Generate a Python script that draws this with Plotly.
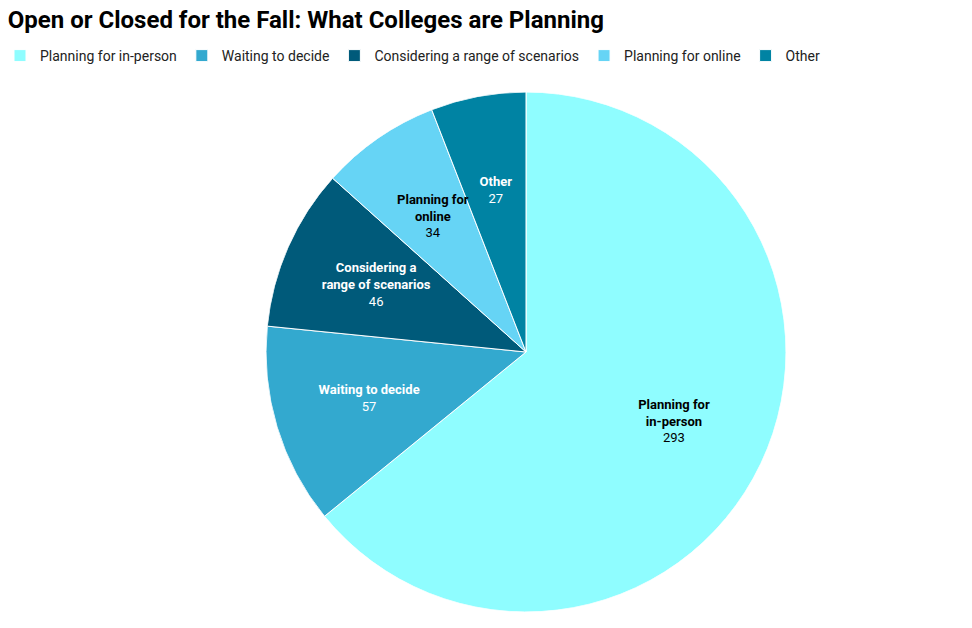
import plotly.graph_objects as go

categories = ["Planning for in-person", "Waiting to decide", "Considering a range of scenarios",
              "Planning for online", "Other"]
slice_labels = ["Planning for<br>in-person", "Waiting to decide", "Considering a<br>range of scenarios",
                "Planning for<br>online", "Other"]
values = [293, 57, 46, 34, 27]
colors = ["#8ffdff", "#33a9cf", "#005a7a", "#66d4f5", "#0083a3"]
text_colors = ["#000000", "#ffffff", "#ffffff", "#000000", "#ffffff"]

total = sum(values)
widths = [v / total * 360 for v in values]
mids = []
acc = 0.0
for w in widths:
    mids.append(acc + w / 2)
    acc += w

fig = go.Figure()
for cat, v, w, m, c in zip(categories, values, widths, mids, colors):
    fig.add_trace(go.Barpolar(
        name=cat, r=[1], theta=[m], width=[w], base=0,
        marker=dict(color=c, line=dict(color="#ffffff", width=1)),
        hovertemplate=cat + ": " + str(v) + "<extra></extra>",
    ))

fig.add_trace(go.Scatterpolar(
    r=[0.63] * len(values), theta=mids, mode="text",
    text=["<b>%s</b><br>%d" % (l, v) for l, v in zip(slice_labels, values)],
    textfont=dict(family="Roboto", size=13, color=text_colors),
    showlegend=False, hoverinfo="skip",
))

fig.update_layout(
    width=972, height=628,
    paper_bgcolor="#ffffff",
    margin=dict(l=80, r=0, t=92, b=16),
    font=dict(family="Roboto", color="#000000"),
    polar=dict(
        domain=dict(x=[0, 1], y=[0, 1]),
        bgcolor="rgba(0,0,0,0)", bargap=0, hole=0,
        radialaxis=dict(visible=False, range=[0, 1]),
        angularaxis=dict(visible=False, rotation=90, direction="clockwise"),
    ),
    title=dict(text="<b>Open or Closed for the Fall: What Colleges are Planning</b>",
               font=dict(family="Roboto", size=24, color="#000000"),
               x=0.008, xref="container", xanchor="left",
               y=1 - 20 / 628, yref="container", yanchor="middle"),
    legend=dict(orientation="h", x=0, xref="container", xanchor="left",
                y=1 - 40 / 628, yref="container", yanchor="top",
                font=dict(family="Roboto", size=14, color="#222222"),
                traceorder="normal", itemwidth=30),
    showlegend=True,
)

fig.write_html("out.html")
